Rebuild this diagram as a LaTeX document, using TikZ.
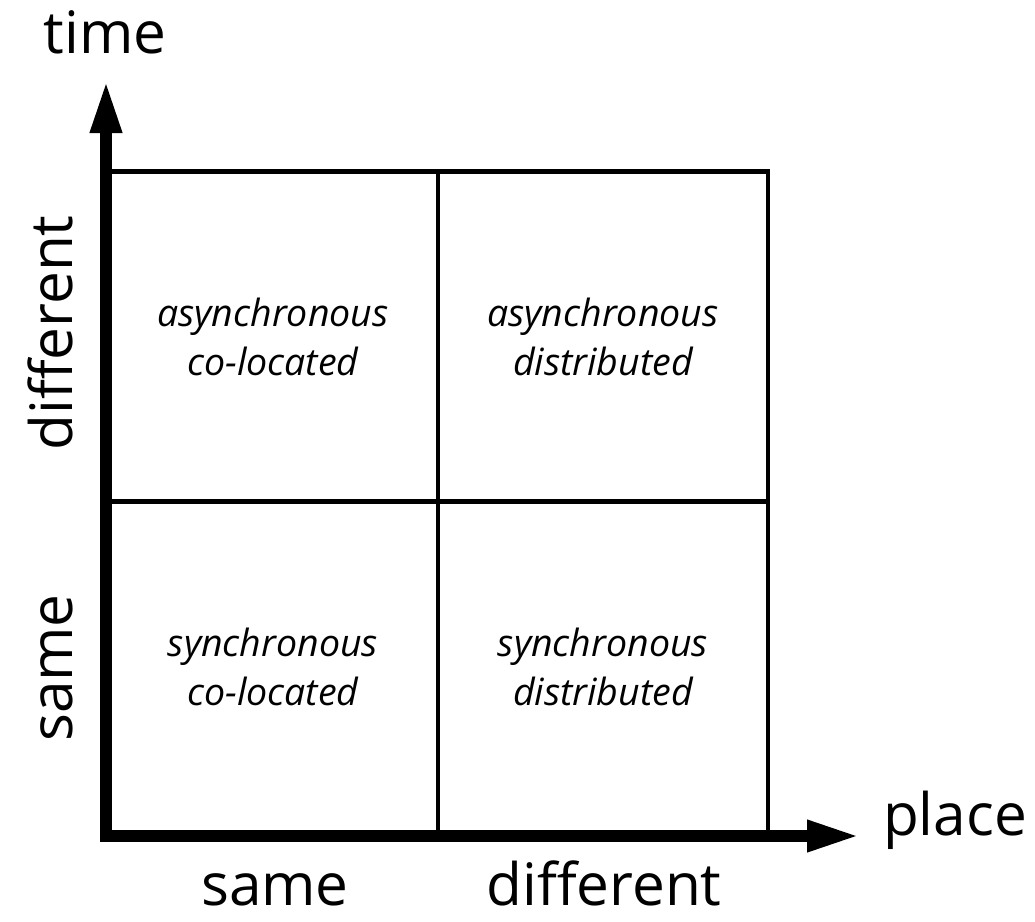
\documentclass[tikz,border=0pt]{standalone}
\usepackage{fontspec}
\setmainfont{Open Sans}
\usetikzlibrary{arrows.meta}

\begin{document}
\begin{tikzpicture}[x=1pt, y=-1pt,
  cell/.style={shape=rectangle, draw=black, line width=4.5pt, minimum size=330pt, align=center, font=\fontsize{37.5}{49}\selectfont\itshape},
  axis/.style={line width=12pt, line join=miter, {Triangle[length=53pt,width=29pt]}-{Triangle[length=53pt,width=29pt]}},
  axislabel/.style={font=\fontsize{58.5}{64}\selectfont, anchor=base, inner sep=0pt}]

\useasboundingbox (0,0) rectangle (1035,921);

\node [cell] (c11) at (273,336.5) {asynchronous\\co-located};
\node [cell] (c12) at (603,336.5) {asynchronous\\distributed};
\node [cell] (c21) at (273,667) {synchronous\\co-located};
\node [cell] (c22) at (603,667) {synchronous\\distributed};

\coordinate (corner) at (106,836);
\coordinate (timetip) at (106,80);
\coordinate (placetip) at (860,836);
\draw [axis] (timetip) -- (corner) -- (placetip);

\node [axislabel] (time) at (105,53) {time};
\node [axislabel] (place) at (955,835) {place};
\node [axislabel] (xsame) at (275,905) {same};
\node [axislabel] (xdiff) at (604,905) {different};
\node [axislabel, rotate=90] (ydiff) at (72,333) {different};
\node [axislabel, rotate=90] (ysame) at (72,668) {same};
\end{tikzpicture}
\end{document}
